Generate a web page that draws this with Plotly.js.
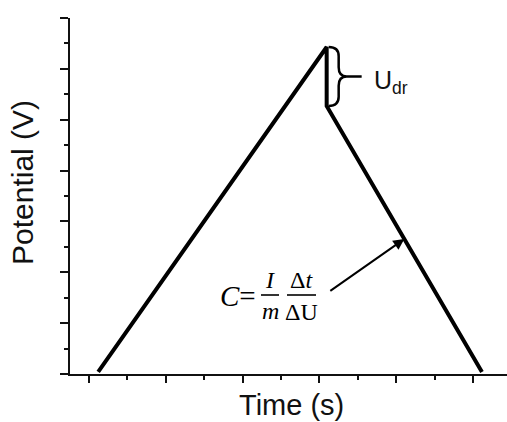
<!DOCTYPE html>
<html>
<head>
<meta charset="utf-8">
<script src="https://cdn.plot.ly/plotly-3.0.1.min.js"></script>
<style>
  html, body { margin: 0; padding: 0; background: #fff; }
  #chart { width: 507px; height: 422px; }
</style>
</head>
<body>
<div id="chart"></div>
<script>
// Galvanostatic charge / discharge profile (schematic, arbitrary units)
const time      = [0.12, 3.095, 3.095, 5.117];
const potential = [0.04, 6.43, 5.27, 0.04];

const xTitle = 'Time (s)';
const yTitle = 'Potential (V)';
const dropLabel = 'U<sub>dr</sub>';

// Figure geometry
const W = 507, H = 422;
const M = { l: 70, r: 0, t: 18, b: 48 };
const PW = W - M.l - M.r, PH = H - M.t - M.b;
const fx = p => (p - M.l) / PW;          // pixel x -> paper x
const fy = p => (H - M.b - p) / PH;      // pixel y -> paper y

// Peak, IR drop and discharge branch taken from the series
const peakT = time[1], peakV = potential[1], dropV = potential[2];
const midV = (peakV + dropV) / 2;
const f = 0.5;                            // arrow target along the discharge branch
const arrowT = time[2] + f * (time[3] - time[2]);
const arrowV = potential[2] + f * (potential[3] - potential[2]);

const serif = 'Liberation Serif, DejaVu Serif, serif';
const sans = 'Liberation Sans, Arial, sans-serif';

const trace = {
  x: time, y: potential, type: 'scatter', mode: 'lines',
  line: { color: '#000', width: 4 }, hoverinfo: 'skip'
};

const axisCommon = {
  showgrid: false, zeroline: false, showticklabels: false,
  showline: true, linecolor: '#111', linewidth: 2,
  ticks: 'outside', tickcolor: '#111', tickwidth: 2,
  tick0: 0, dtick: 1, fixedrange: true
};

// Curly brace spanning the IR drop (x in pixels from the peak, y in data units)
const c = 0.18;
const bracePath = [
  `M 2,${peakV}`, `Q 12,${peakV} 12,${peakV - c}`,
  `L 12,${midV + c}`, `Q 12,${midV} 20,${midV}`, `L 35,${midV}`,
  `M 20,${midV}`, `Q 12,${midV} 12,${midV - c}`,
  `L 12,${dropV + c}`, `Q 12,${dropV} 2,${dropV}`
].join(' ');

const layout = {
  width: W, height: H, margin: M,
  paper_bgcolor: '#fff', plot_bgcolor: '#fff', showlegend: false,
  xaxis: Object.assign({}, axisCommon, {
    range: [-0.247, 5.443], ticklen: 7,
    minor: { dtick: 0.5, ticks: 'outside', ticklen: 4, tickwidth: 2, tickcolor: '#111' }
  }),
  yaxis: Object.assign({}, axisCommon, {
    range: [0, 7], ticklen: 8,
    minor: { dtick: 0.5, ticks: 'outside', ticklen: 4, tickwidth: 2, tickcolor: '#111' }
  }),
  shapes: [
    { type: 'path', xref: 'x', yref: 'y', xsizemode: 'pixel', xanchor: peakT,
      path: bracePath, line: { color: '#000', width: 2.5 } },
    // fraction bars
    { type: 'line', xref: 'paper', yref: 'paper', x0: fx(261), x1: fx(279), y0: fy(295), y1: fy(295),
      line: { color: '#000', width: 1.6 } },
    { type: 'line', xref: 'paper', yref: 'paper', x0: fx(287), x1: fx(316), y0: fy(295), y1: fy(295),
      line: { color: '#000', width: 1.6 } }
  ],
  annotations: [
    { text: xTitle, xref: 'paper', yref: 'paper', x: fx(291), y: fy(405),
      xanchor: 'center', yanchor: 'middle', showarrow: false,
      font: { family: sans, size: 29, color: '#111' } },
    { text: yTitle, xref: 'paper', yref: 'paper', x: fx(22), y: fy(183),
      xanchor: 'center', yanchor: 'middle', textangle: -90, showarrow: false,
      font: { family: sans, size: 30, color: '#111' } },
    { text: dropLabel, xref: 'paper', yref: 'paper', x: fx(372), y: fy(82),
      xanchor: 'left', yanchor: 'middle', showarrow: false,
      font: { family: sans, size: 25, color: '#111' } },
    // capacitance formula
    { text: '<i>C</i>=', xref: 'paper', yref: 'paper', x: fx(258), y: fy(296),
      xanchor: 'right', yanchor: 'middle', showarrow: false,
      font: { family: serif, size: 29, color: '#000' } },
    { text: '<i>I</i>', xref: 'paper', yref: 'paper', x: fx(270), y: fy(280),
      xanchor: 'center', yanchor: 'middle', showarrow: false,
      font: { family: serif, size: 24, color: '#000' } },
    { text: '<i>m</i>', xref: 'paper', yref: 'paper', x: fx(270), y: fy(311),
      xanchor: 'center', yanchor: 'middle', showarrow: false,
      font: { family: serif, size: 24, color: '#000' } },
    { text: 'Δ<i>t</i>', xref: 'paper', yref: 'paper', x: fx(301), y: fy(280),
      xanchor: 'center', yanchor: 'middle', showarrow: false,
      font: { family: serif, size: 24, color: '#000' } },
    { text: 'ΔU', xref: 'paper', yref: 'paper', x: fx(301), y: fy(312),
      xanchor: 'center', yanchor: 'middle', showarrow: false,
      font: { family: serif, size: 24, color: '#000' } },
    // arrow pointing at the discharge slope
    { text: ' ', x: arrowT, y: arrowV, xref: 'x', yref: 'y',
      showarrow: true, arrowhead: 2, arrowsize: 1.1, arrowwidth: 2, arrowcolor: '#000',
      ax: -77, ay: 54, standoff: 0 }
  ]
};

Plotly.newPlot('chart', [trace], layout, { displayModeBar: false, staticPlot: true });
</script>
</body>
</html>
